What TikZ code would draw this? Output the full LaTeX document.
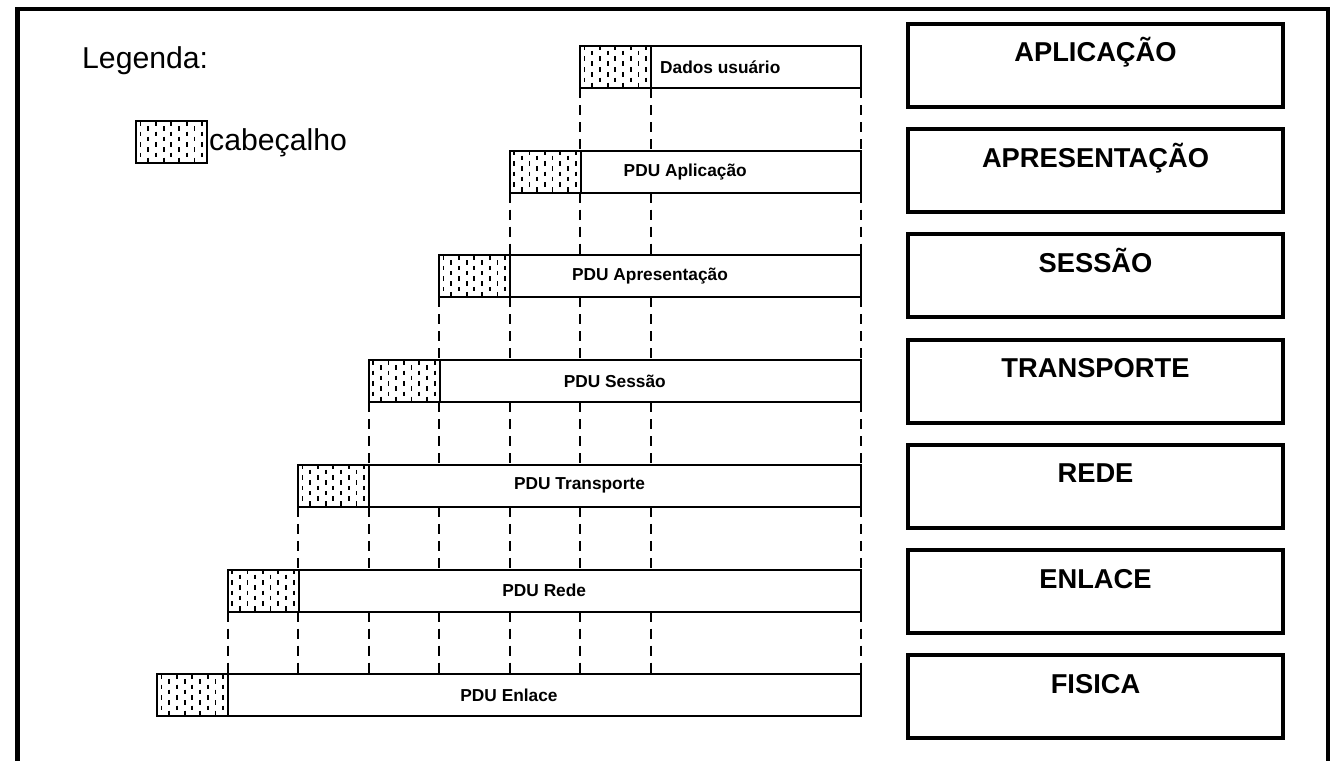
\documentclass[tikz,border=0pt]{standalone}
\usepackage{fontspec}
\setmainfont{Liberation Sans}
\usetikzlibrary{calc}
\begin{document}
\begin{tikzpicture}[x=1pt,y=-1pt,
  hdr/.style={draw, line width=2pt, minimum width=71pt, minimum height=42pt,
    inner sep=0pt, outer sep=0pt, anchor=north west,
    path picture={
      \foreach \i in {0,...,8}{
        \pgfmathsetmacro\off{mod(\i,2)==0 ? 0 : 5}
        \foreach \j in {0,...,3}{
          \draw[line width=1.8pt]
            (path picture bounding box.north west) ++({4.5+\i*7.7},{\off+\j*10.5}) -- ++(0,4.5);
        }
      }
    }},
  databox/.style={draw, line width=2pt, minimum height=42pt, inner sep=0pt,
    outer sep=0pt, anchor=north west},
  pdulabel/.style={font=\fontsize{17.3}{20}\selectfont\bfseries, inner sep=0pt},
  layer/.style={draw, line width=4pt, minimum width=375pt, minimum height=83pt, inner sep=0pt},
  layertitle/.style={font=\fontsize{27.3}{31}\selectfont\bfseries, anchor=base, inner sep=0pt},
  legendtext/.style={font=\fontsize{30.2}{35}\selectfont, anchor=base west, inner sep=0pt},
  guide/.style={line width=2pt, dash pattern=on 10pt off 7pt},
]
\useasboundingbox (0,0) rectangle (1340,760);

% outer frame (open at the bottom)
\draw[line width=3.5pt] (1328,775) -- (1328,9) -- (17,9);
\draw[line width=5pt] (17.5,7.5) -- (17.5,775);

% legend
\node[legendtext] (leg) at (82,68) {Legenda:};
\node[hdr] (lbox) at (136,121) {};
\node[legendtext] (lcab) at (209,150) {cabeçalho};

% encapsulation bars: header + data part
\foreach \k/\txt in {0/Dados usuário, 1/PDU Aplicação, 2/PDU Apresentação,
                     3/PDU Sessão, 4/PDU Transporte, 5/PDU Rede, 6/PDU Enlace}{
  \pgfmathsetmacro\hx{580-70.5*\k}
  \pgfmathsetmacro\ty{46+104.7*\k}
  \pgfmathsetmacro\dw{861-(\hx+71)}
  \node[hdr] (h\k) at (\hx,\ty) {};
  \node[databox, minimum width=\dw pt] (d\k) at (h\k.north east) {};
  \ifnum\k=0
    \node[pdulabel, anchor=west] (t\k) at ([xshift=9pt]d\k.west) {\txt};
  \else
    \node[pdulabel] (t\k) at ($(h\k.west)!0.5!(d\k.east)$) {\txt};
  \fi
}

% dashed guides between consecutive bars
\foreach \k in {0,...,5}{
  \pgfmathtruncatemacro\kk{\k+1}
  \foreach \j in {0,...,\k}{
    \draw[guide] (h\j.west |- d\k.south) -- (h\j.west |- d\kk.north);
  }
  \draw[guide] (h0.east |- d\k.south) -- (h0.east |- d\kk.north);
  \draw[guide] (d\k.south east) -- (d\kk.north east);
}

% OSI layers
\foreach \i/\name in {0/APLICAÇÃO, 1/APRESENTAÇÃO, 2/SESSÃO, 3/TRANSPORTE,
                      4/REDE, 5/ENLACE, 6/FISICA}{
  \pgfmathsetmacro\cy{24+105.2*\i+41.5}
  \node[layer] (L\i) at (1095.5,\cy) {};
  \node[layertitle] (N\i) at ([yshift=-40pt]L\i.north) {\name};
}
\end{tikzpicture}
\end{document}
